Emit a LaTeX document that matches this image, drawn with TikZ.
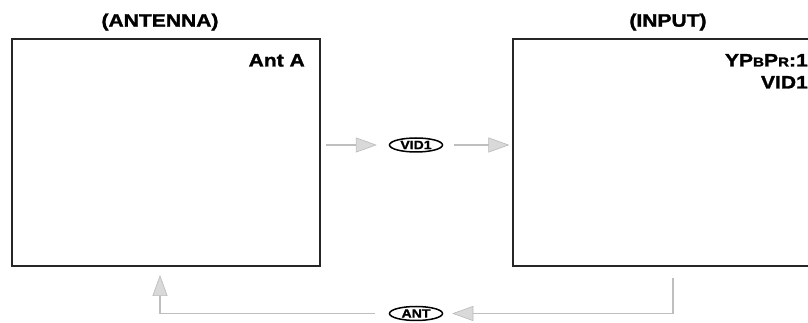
\documentclass[tikz,border=0pt]{standalone}
\usepackage{fontspec}
\newfontfamily\labfont{Liberation Sans}[FakeStretch=1.17,BoldFeatures={FakeBold=1.6}]
\usepackage{tikz}
\usetikzlibrary{arrows.meta,shapes.geometric,positioning}
\tikzset{>={Triangle[length=21pt,width=15pt,color=gray!55,fill=gray!30,line width=0.6pt]}}
\tikzset{
  screen/.style={draw=black!85,line width=1.3pt,minimum width=308pt,minimum height=227pt,inner sep=0pt},
  title/.style={font=\labfont\fontsize{18}{20}\selectfont\bfseries,inner sep=0pt},
  osd/.style={font=\labfont\fontsize{18}{20}\selectfont\bfseries,inner sep=0pt},
  key/.style={ellipse,draw=black,line width=1.5pt,minimum width=53pt,minimum height=14pt,inner sep=0pt,
    font=\labfont\fontsize{12}{12}\selectfont\bfseries},
  flow/.style={draw=gray!50,line width=1.1pt,->}
}
\begin{document}
\begin{tikzpicture}[x=1pt,y=1pt]
\useasboundingbox (0,0) rectangle (808,323);
\node [screen] (ant) at (166,170.5) {};
\node [screen,minimum width=310pt] (input) at (668,170.5) {};
\node [title] (antT) at (160,301) {(ANTENNA)};
\node [title] (inT) at (668,301) {(INPUT)};
\node [osd,anchor=base east] (anta) at (305,256.5) {Ant A};
\node [osd,anchor=base east] (ypb) at (808,256.5) {YP{\fontsize{13}{13}\selectfont B}P{\fontsize{13}{13}\selectfont R}:1};
\node [osd,anchor=base east] (vidtxt) at (808,234.5) {VID1};
\node [key] (vid) at (416,178) {VID1};
\node [key] (antkey) at (416,9.5) {ANT};
\coordinate (rdown) at (673,45);
\coordinate (rcorner) at (673,9.5);
\coordinate (lcorner) at (160,9.5);
\coordinate (lup) at (160,48);
\draw [flow,shorten <=5pt,shorten >=12pt] (ant.east |- vid) -- (vid);
\draw [flow,shorten <=11pt,shorten >=3pt] (vid) -- (input.west |- vid);
\draw [flow,shorten >=9pt] (rdown) -- (rcorner) -- (antkey.east);
\draw [flow,shorten <=14pt] (antkey.west) -- (lcorner) -- (lup);
\end{tikzpicture}
\end{document}
